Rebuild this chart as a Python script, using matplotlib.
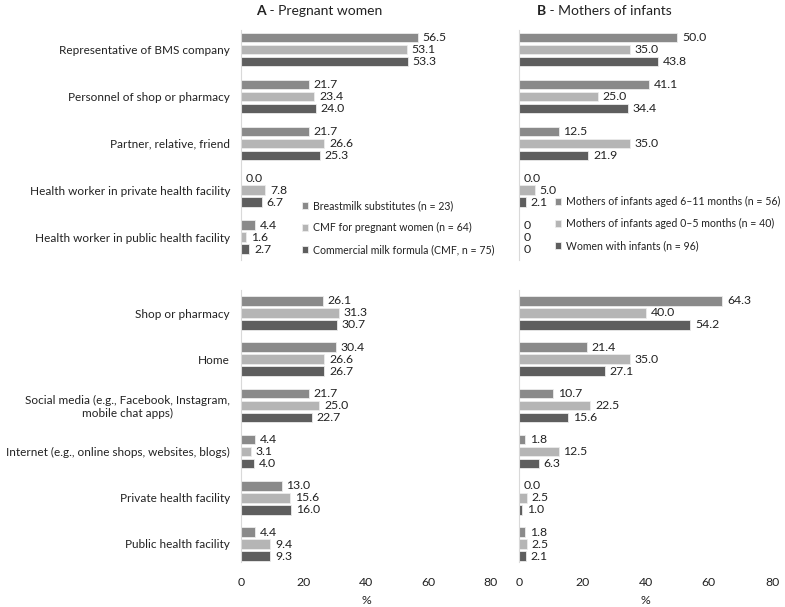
import numpy as np
import matplotlib.pyplot as plt

plt.rcParams['font.family'] = ['Lato', 'DejaVu Sans']

# ---- data ----
source_cats = ['Representative of BMS company', 'Personnel of shop or pharmacy',
               'Partner, relative, friend', 'Health worker in private health facility',
               'Health worker in public health facility']
place_cats = ['Shop or pharmacy', 'Home', 'Social media (e.g., Facebook, Instagram,\nmobile chat apps)',
              'Internet (e.g., online shops, websites, blogs)', 'Private health facility',
              'Public health facility']

preg_names = ['Breastmilk substitutes (n = 23)', 'CMF for pregnant women (n = 64)',
              'Commercial milk formula (CMF, n = 75)']
moth_names = ['Mothers of infants aged 6\u201311 months (n = 56)',
              'Mothers of infants aged 0\u20135 months (n = 40)', 'Women with infants (n = 96)']

preg_bms_src = [56.5, 21.7, 21.7, 0.0, 4.4]
preg_cmfp_src = [53.1, 23.4, 26.6, 7.8, 1.6]
preg_cmf_src = [53.3, 24.0, 25.3, 6.7, 2.7]

moth_611_src = [50.0, 41.1, 12.5, 0.0, 0]
moth_05_src = [35.0, 25.0, 35.0, 5.0, 0]
moth_all_src = [43.8, 34.4, 21.9, 2.1, 0]

preg_bms_place = [26.1, 30.4, 21.7, 4.4, 13.0, 4.4]
preg_cmfp_place = [31.3, 26.6, 25.0, 3.1, 15.6, 9.4]
preg_cmf_place = [30.7, 26.7, 22.7, 4.0, 16.0, 9.3]

moth_611_place = [64.3, 21.4, 10.7, 1.8, 0.0, 1.8]
moth_05_place = [40.0, 35.0, 22.5, 12.5, 2.5, 2.5]
moth_all_place = [54.2, 27.1, 15.6, 6.3, 1.0, 2.1]

colors = ['#8a8a8a', '#b5b5b5', '#5e5e5e']
TXT = '#222222'

W, H = 785, 607
fig = plt.figure(figsize=(W / 100, H / 100), dpi=100)


def rect(x0, x1, y0, y1):
    return [x0 / W, 1 - y1 / H, (x1 - x0) / W, (y1 - y0) / H]


def fmt(v):
    return str(v) if isinstance(v, int) else f'{v:.1f}'


def panel(r, cats, series, spacing, top_off, show_cats, show_x):
    ax = fig.add_axes(r)
    n = len(cats)
    y = np.arange(n)
    step = 12 / spacing
    h = 9.5 / spacing
    conts = []
    for i, vals in enumerate(series):
        c = ax.barh(y + (i - 1) * step, vals, height=h, color=colors[i],
                    edgecolor='#ececec', linewidth=0.6)
        ax.bar_label(c, labels=[fmt(v) for v in vals], padding=3.5, fontsize=8.8, color=TXT)
        conts.append(c)
    bot_px = r[3] * H
    ax.set_ylim((bot_px - top_off) / spacing, -top_off / spacing)
    ax.set_xlim(0, 80)
    for s in ['top', 'right', 'bottom']:
        ax.spines[s].set_visible(False)
    ax.spines['left'].set_color('#d9d9d9')
    ax.tick_params(length=0, labelcolor=TXT)
    if show_cats:
        ax.set_yticks(y, cats, fontsize=8.5, multialignment='center')
        ax.tick_params(axis='y', pad=8)
    else:
        ax.set_yticks([])
    if show_x:
        ax.set_xticks([0, 20, 40, 60, 80])
        ax.tick_params(axis='x', labelsize=8.8, pad=11)
        ax.set_xlabel('%', fontsize=8.8, color=TXT, labelpad=5)
    else:
        ax.set_xticks([])
    return ax, conts


axA1, cA = panel(rect(241, 491, 30, 260), source_cats,
                 [preg_bms_src, preg_cmfp_src, preg_cmf_src], 46.9, 19.5, True, False)
axB1, cB = panel(rect(519, 772, 30, 260), source_cats,
                 [moth_611_src, moth_05_src, moth_all_src], 46.9, 19.5, False, False)
axA2, _ = panel(rect(241, 491, 290, 562), place_cats,
                [preg_bms_place, preg_cmfp_place, preg_cmf_place], 46.2, 23, True, True)
axB2, _ = panel(rect(519, 772, 290, 562), place_cats,
                [moth_611_place, moth_05_place, moth_all_place], 46.2, 23, False, True)

leg_kw = dict(frameon=False, fontsize=7.6, handlelength=0.6, handleheight=0.6,
              handletextpad=0.4, labelspacing=1.05, borderpad=0, borderaxespad=0,
              labelcolor=TXT)
fig.legend(cA, preg_names, loc='upper left', bbox_to_anchor=(302 / W, 1 - 200 / H), **leg_kw)
fig.legend(cB, moth_names, loc='upper left', bbox_to_anchor=(555 / W, 1 - 196 / H), **leg_kw)

# panel titles: bold letter + regular text
for x0, letter, rest in [(256, 'A', ' - Pregnant women'), (537, 'B', ' - Mothers of infants')]:
    t = fig.text(x0 / W, 1 - 11 / H, letter, fontsize=10, fontweight='bold', color=TXT, va='center')
    axA1.annotate(rest, xy=(1, 0.5), xycoords=t, va='center', ha='left',
                  fontsize=10, color=TXT, annotation_clip=False)

fig.savefig('out.png', dpi=100, facecolor='white')
